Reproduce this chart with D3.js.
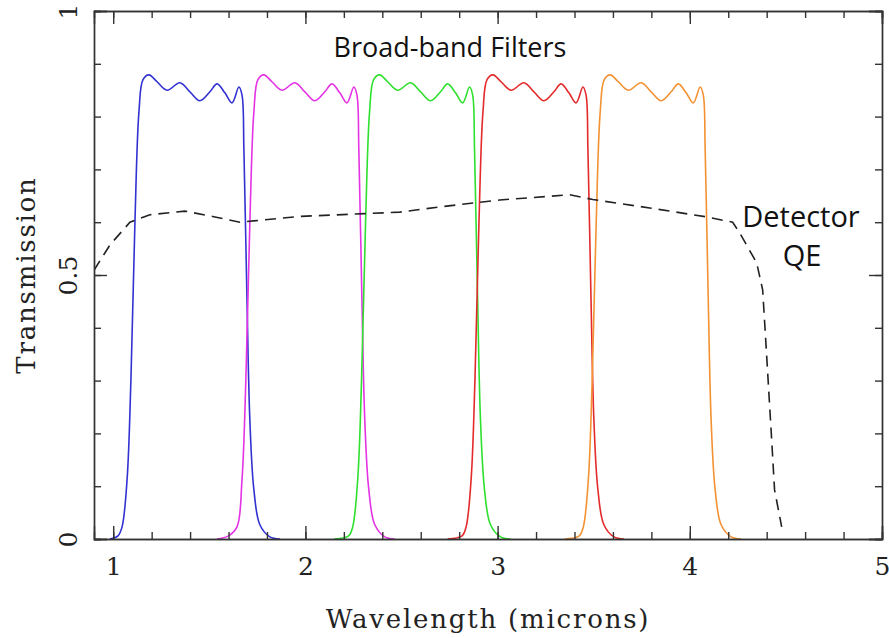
<!DOCTYPE html>
<html>
<head>
<meta charset="utf-8">
<script src="https://cdn.jsdelivr.net/npm/d3@7"></script>
<style>
	body { margin: 0; background: #fff; }
	svg { display: block; }
	.frame line, .frame path { stroke: #333; }
	.lbl { font-family: "DejaVu Serif", serif; fill: #222; }
	.note { font-family: "Open Sans", sans-serif; fill: #111; }
</style>
</head>
<body>
<div id="chart"></div>
<script>
//filter curves: wavelength (microns) and transmission
var blueX = [0.983,1.025,1.046,1.072,1.092,1.113,1.134,1.155,1.186,1.228,1.28,1.347,1.399,1.451,1.503,1.540,1.581,1.618,1.654,1.670,1.680,1.696,1.711,1.732,1.763,1.815,1.867];
var blueY = [0,0.006,0.023,0.112,0.30,0.60,0.81,0.87,0.879,0.866,0.850,0.864,0.847,0.830,0.847,0.862,0.845,0.826,0.856,0.841,0.737,0.453,0.225,0.093,0.027,0.004,0];

var magentaX = [1.54,1.60,1.644,1.670,1.690,1.711,1.732,1.753,1.784,1.826,1.878,1.945,1.997,2.049,2.101,2.138,2.179,2.216,2.252,2.268,2.278,2.294,2.309,2.330,2.361,2.413,2.465];
var magentaY = [0,0.006,0.023,0.112,0.30,0.60,0.81,0.87,0.879,0.866,0.850,0.864,0.847,0.830,0.847,0.862,0.845,0.826,0.856,0.841,0.737,0.453,0.225,0.093,0.027,0.004,0];

var greenX = [2.15,2.225,2.246,2.272,2.292,2.313,2.334,2.355,2.386,2.428,2.48,2.547,2.599,2.651,2.703,2.740,2.781,2.818,2.854,2.870,2.880,2.896,2.911,2.932,2.963,3.015,3.067];
var greenY = [0,0.006,0.023,0.112,0.30,0.60,0.81,0.87,0.879,0.866,0.850,0.864,0.847,0.830,0.847,0.862,0.845,0.826,0.856,0.841,0.737,0.453,0.225,0.093,0.027,0.004,0];

var redX = [2.74,2.815,2.836,2.862,2.882,2.903,2.924,2.945,2.976,3.018,3.07,3.137,3.189,3.241,3.293,3.330,3.371,3.408,3.444,3.460,3.470,3.486,3.501,3.522,3.553,3.605,3.657];
var redY = [0,0.006,0.023,0.112,0.30,0.60,0.81,0.87,0.879,0.866,0.850,0.864,0.847,0.830,0.847,0.862,0.845,0.826,0.856,0.841,0.737,0.453,0.225,0.093,0.027,0.004,0];

var orangeX = [3.35,3.425,3.446,3.472,3.492,3.513,3.534,3.555,3.586,3.628,3.68,3.747,3.799,3.851,3.903,3.940,3.981,4.018,4.054,4.070,4.080,4.096,4.111,4.132,4.163,4.215,4.267];
var orangeY = [0,0.006,0.023,0.112,0.30,0.60,0.81,0.87,0.879,0.866,0.850,0.864,0.847,0.830,0.847,0.862,0.845,0.826,0.856,0.841,0.737,0.453,0.225,0.093,0.027,0.004,0];

//detector quantum efficiency (dashed)
var qeX = [0.9,0.983,1.087,1.191,1.373,1.529,1.659,1.971,2.491,2.699,3.011,3.375,3.495,3.791,4.088,4.223,4.259,4.348,4.379,4.394,4.426,4.441,4.478];
var qeY = [0.509,0.557,0.600,0.614,0.621,0.610,0.600,0.611,0.619,0.629,0.642,0.652,0.643,0.627,0.610,0.600,0.580,0.523,0.472,0.383,0.1875,0.093,0.023];

var xMajor = [1, 2, 3, 4, 5];
var yMajor = [0, 0.5, 1];
var yMajorLabels = ["0", "0.5", "1"];

var filters = [
	{x: blueX, y: blueY, color: "#3232d2"},
	{x: magentaX, y: magentaY, color: "#e433e4"},
	{x: greenX, y: greenY, color: "#2fe02f"},
	{x: redX, y: redY, color: "#e42a2a"},
	{x: orangeX, y: orangeY, color: "#f39233"}
];

var W = 889, H = 638;
var margin = {top: 11, right: 7, bottom: 99, left: 94};
var graph_w = W - margin.left - margin.right;
var graph_h = H - margin.top - margin.bottom;

var svg = d3.select("#chart").append("svg")
	.attr("width", W)
	.attr("height", H);
var g = svg.append("g")
	.attr("transform", "translate(" + margin.left + "," + margin.top + ")");

var x = d3.scaleLinear().domain([0.9, 5]).range([0, graph_w]);
var y = d3.scaleLinear().domain([0, 1]).range([graph_h, 0]);

var xMinor = d3.range(1, 5.0001, 0.2).map(function(v) { return +v.toFixed(1); });
var yMinor = d3.range(0, 1.0001, 0.1).map(function(v) { return +v.toFixed(1); });

//curves first, frame on top
var line = d3.line()
	.x(function(d) { return x(d[0]); })
	.y(function(d) { return y(d[1]); })
	.curve(d3.curveCatmullRom.alpha(0.5));

g.append("defs").append("clipPath").attr("id", "clip")
	.append("rect").attr("width", graph_w).attr("height", graph_h);

var plot = g.append("g").attr("clip-path", "url(#clip)");

filters.forEach(function(f) {
	plot.append("path")
		.datum(d3.zip(f.x, f.y))
		.attr("fill", "none")
		.attr("stroke", f.color)
		.attr("stroke-width", 1.6)
		.attr("d", line);
});

plot.append("path")
	.datum(d3.zip(qeX, qeY))
	.attr("fill", "none")
	.attr("stroke", "#222")
	.attr("stroke-width", 1.6)
	.attr("stroke-dasharray", "11,7")
	.attr("d", line.curve(d3.curveLinear));

// inward ticks on all four sides
function frame(axis, tr) {
	var a = g.append("g").attr("class", "frame");
	if (tr) a.attr("transform", tr);
	a.call(axis);
	a.selectAll("path, line").attr("stroke-width", 1.4);
	return a;
}
frame(d3.axisBottom(x).tickValues(xMinor).tickSize(-7).tickFormat(""), "translate(0," + graph_h + ")");
frame(d3.axisTop(x).tickValues(xMinor).tickSize(-7).tickFormat(""));
frame(d3.axisLeft(y).tickValues(yMinor).tickSize(-7).tickFormat(""));
frame(d3.axisRight(y).tickValues(yMinor).tickSize(-7).tickFormat(""), "translate(" + graph_w + ",0)");
frame(d3.axisTop(x).tickValues(xMajor).tickSize(-13).tickFormat(""));
frame(d3.axisRight(y).tickValues(yMajor).tickSize(-13).tickFormat(""), "translate(" + graph_w + ",0)");

var xAx = frame(d3.axisBottom(x).tickValues(xMajor).tickSize(-13).tickPadding(18).tickFormat(d3.format("d")), "translate(0," + graph_h + ")");
xAx.selectAll("text").attr("class", "lbl").style("font-size", "25px").attr("font-family", null);

var yAx = frame(d3.axisLeft(y).tickValues(yMajor).tickSize(-13).tickFormat(function(d, i) { return yMajorLabels[i]; }), null);
yAx.selectAll("text")
	.attr("class", "lbl")
	.attr("font-family", null)
	.style("font-size", "25px")
	.attr("text-anchor", "middle")
	.attr("x", 0)
	.attr("y", -17)
	.attr("dy", 0)
	.attr("transform", "rotate(-90)");

// axis titles
svg.append("text")
	.attr("class", "lbl")
	.attr("x", margin.left + graph_w / 2)
	.attr("y", 628)
	.attr("text-anchor", "middle")
	.style("font-size", "26px")
	.style("letter-spacing", "1.8px")
	.text("Wavelength (microns)");

svg.append("text")
	.attr("class", "lbl")
	.attr("transform", "translate(35," + (margin.top + graph_h / 2) + ") rotate(-90)")
	.attr("text-anchor", "middle")
	.style("font-size", "26px")
	.style("letter-spacing", "1.8px")
	.text("Transmission");

// annotations
svg.append("text").attr("class", "note")
	.attr("x", 450).attr("y", 57)
	.attr("text-anchor", "middle")
	.style("font-size", "27px")
	.text("Broad-band Filters");
svg.append("text").attr("class", "note")
	.attr("x", 801).attr("y", 227)
	.attr("text-anchor", "middle")
	.style("font-size", "29px")
	.text("Detector");
svg.append("text").attr("class", "note")
	.attr("x", 802).attr("y", 266)
	.attr("text-anchor", "middle")
	.style("font-size", "29px")
	.text("QE");
</script>
</body>
</html>
